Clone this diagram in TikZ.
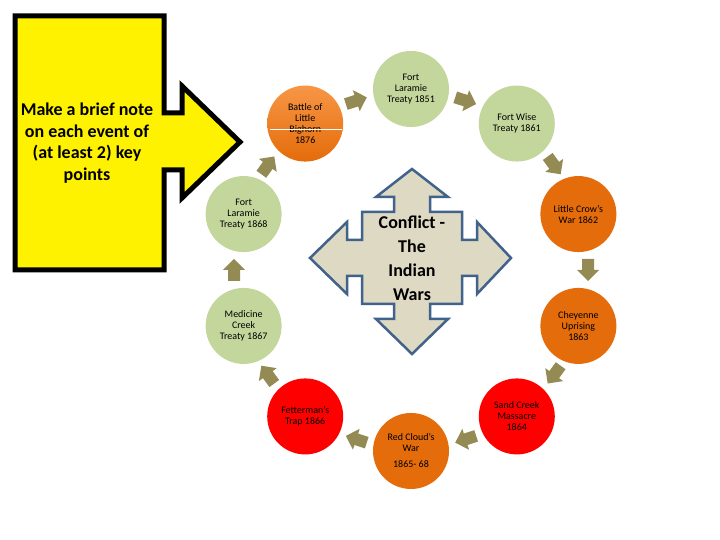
\documentclass[tikz,border=0pt]{standalone}
\usepackage{fontspec}
\setmainfont{Carlito}
\begin{document}
\begin{tikzpicture}[x=1pt,y=1pt,
  evt/.style={circle,minimum size=76pt,inner sep=0pt,align=center,
    font=\fontsize{10}{11}\selectfont,text=black},
  green/.style={evt,fill=evgreen},
  orng/.style={evt,fill=evorange},
  redc/.style={evt,fill=red},
  cyclearrow/.style={fill=arrolive,draw=none}]
\definecolor{evgreen}{HTML}{C3D69B}
\definecolor{evorange}{HTML}{E46C0A}
\definecolor{evlight}{HTML}{F79646}
\definecolor{arrolive}{HTML}{948A54}
\definecolor{quadfill}{HTML}{DDD9C3}
\definecolor{quadline}{HTML}{41628A}
\useasboundingbox (0,0) rectangle (720,540);
\fill[white] (0,0) rectangle (720,540);

% yellow callout
\draw[line width=5pt,fill=yellow,draw=black,line join=miter]
  (15,524) -- (164,524) -- (164,427) -- (182,427) -- (182,454) -- (240,398)
  -- (182,342) -- (182,370) -- (164,370) -- (164,270) -- (15,270) -- cycle;
\node[align=center,font=\fontsize{18}{21.7}\selectfont\bfseries] (note) at (87,397)
  {Make a brief note\\on each event of\\(at least 2) key\\points};

% central quad arrow
\draw[line width=2.5pt,draw=quadline,fill=quadfill,line join=miter]
  (412,371) -- (448,343) -- (430,343) -- (430,328) -- (462,328) -- (462,300)
  -- (477,300) -- (477,318) -- (511,282) -- (477,246) -- (477,264) -- (462,264)
  -- (462,236) -- (430,236) -- (430,221) -- (448,221) -- (412,186) -- (376,221)
  -- (394,221) -- (394,236) -- (362,236) -- (362,264) -- (347,264) -- (347,246)
  -- (310,282) -- (347,318) -- (347,300) -- (362,300) -- (362,328) -- (394,328)
  -- (394,343) -- (376,343) -- cycle;
\node[align=center,font=\fontsize{18}{24}\selectfont\bfseries] (conflict) at (412,282)
  {Conflict -\\The\\Indian\\Wars};

% event circles
\node[green] (fl51) at ({411+180*cos(90)},{270+181*sin(90)}) {Fort\\Laramie\\Treaty 1851};
\node[green] (fw61) at ({411+180*cos(54)},{270+181*sin(54)}) {Fort Wise\\Treaty 1861};
\node[orng] (lc62) at ({411+176*cos(18)},{270+181*sin(18)}) {Little Crow’s\\War 1862};
\node[orng] (ch63) at ({411+176*cos(-18)},{270+181*sin(-18)}) {Cheyenne\\Uprising\\1863};
\node[redc] (sc64) at ({411+180*cos(-54)},{270+181*sin(-54)}) {Sand Creek\\Massacre\\1864};
\node[orng] (rc65) at ({411+180*cos(-90)},{270+181*sin(-90)})
  {Red Cloud’s\\War\\[5pt]1865- 68};
\node[redc] (ft66) at ({411+180*cos(-126)},{270+181*sin(-126)}) {Fetterman’s\\Trap 1866};
\node[green] (mc67) at ({411+176*cos(-162)},{270+181*sin(-162)}) {Medicine\\Creek\\Treaty 1867};
\node[green] (fl68) at ({411+176*cos(162)},{270+181*sin(162)}) {Fort\\Laramie\\Treaty 1868};
\node[evt,top color=evlight,bottom color=evorange] (lb76)
  at ({411+180*cos(126)},{270+181*sin(126)}) {Battle of\\Little\\Bighorn\\1876};
\draw[white,line width=0.8pt] ([xshift=-35pt,yshift=-6pt]lb76.center) -- ([xshift=37pt,yshift=-6pt]lb76.center);

% cycle arrows
\foreach \a in {108,72,36,0,-36,-72,-108,-144,180,144}{
  \fill[cyclearrow,shift={({411+177*cos(\a)},{270+178*sin(\a)})},rotate=\a-90]
    (-11,-6) -- (0,-6) -- (0,-11) -- (11,0) -- (0,11) -- (0,6) -- (-11,6) -- cycle;
}
\end{tikzpicture}
\end{document}
